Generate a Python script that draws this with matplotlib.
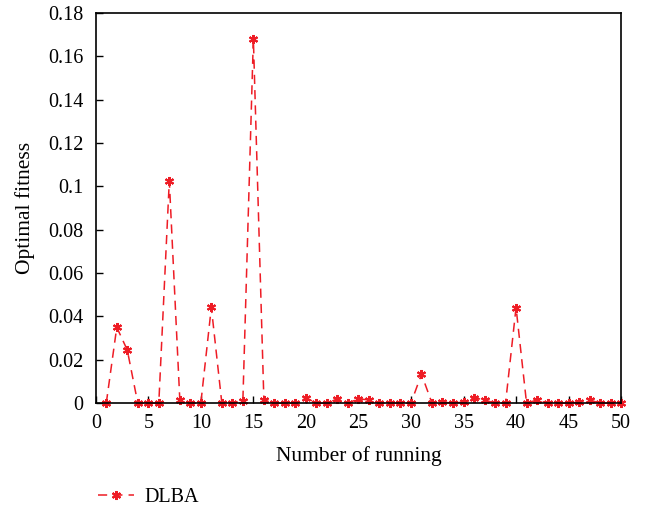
import matplotlib.pyplot as plt
import numpy as np

plt.rcParams['font.family'] = ['Liberation Serif', 'DejaVu Serif']

runs = np.arange(1, 51)
dlba = [0.0, 0.035, 0.0245, 0.0, 0.0, 0.0, 0.1025, 0.0015, 0.0, 0.0,
        0.0442, 0.0, 0.0, 0.001, 0.168, 0.0015, 0.0, 0.0, 0.0, 0.0025,
        0.0, 0.0, 0.002, 0.0, 0.002, 0.0015, 0.0, 0.0, 0.0, 0.0,
        0.0134, 0.0, 0.0005, 0.0, 0.0005, 0.0025, 0.0015, 0.0, 0.0, 0.0441,
        0.0, 0.0015, 0.0, 0.0, 0.0, 0.0005, 0.0015, 0.0, 0.0, 0.0]
xticks = np.arange(0, 51, 5)
yticks = [0, 0.02, 0.04, 0.06, 0.08, 0.1, 0.12, 0.14, 0.16, 0.18]
ytick_labels = ['0', '0.02', '0.04', '0.06', '0.08', '0.1', '0.12', '0.14', '0.16', '0.18']

fig = plt.figure(figsize=(6.47, 5.11), dpi=100)
ax = fig.add_axes([0.148, 0.211, 0.812, 0.764])

red = '#ee1c25'
line, = ax.plot(runs, dlba, color=red, linestyle=(0, (6, 4)), linewidth=1.1,
                marker=(6, 2, 0), markersize=6.5, markeredgewidth=1.5,
                clip_on=False, label='DLBA')

ax.set_xlim(0, 50)
ax.set_ylim(0, 0.18)
ax.set_xticks(xticks)
ax.set_yticks(yticks)
ax.set_yticklabels(ytick_labels)
ax.tick_params(direction='in', length=5, width=1, labelsize=14.5,
               top=False, right=False)
ax.tick_params(axis='x', pad=8)
ax.tick_params(axis='y', pad=9)
for s in ax.spines.values():
    s.set_linewidth(1.2)

ax.set_xlabel('Number of running', fontsize=15.5, labelpad=9)
ax.set_ylabel('Optimal fitness', fontsize=15.5, labelpad=9)

# legend sits under the axes, flush with the left spine
fig.legend(handles=[line], loc='lower left', bbox_to_anchor=(0.151, 0.008),
           frameon=False, fontsize=14.5, handlelength=1.8, handletextpad=0.5,
           borderpad=0, borderaxespad=0)

fig.savefig('out.png', dpi=100)
